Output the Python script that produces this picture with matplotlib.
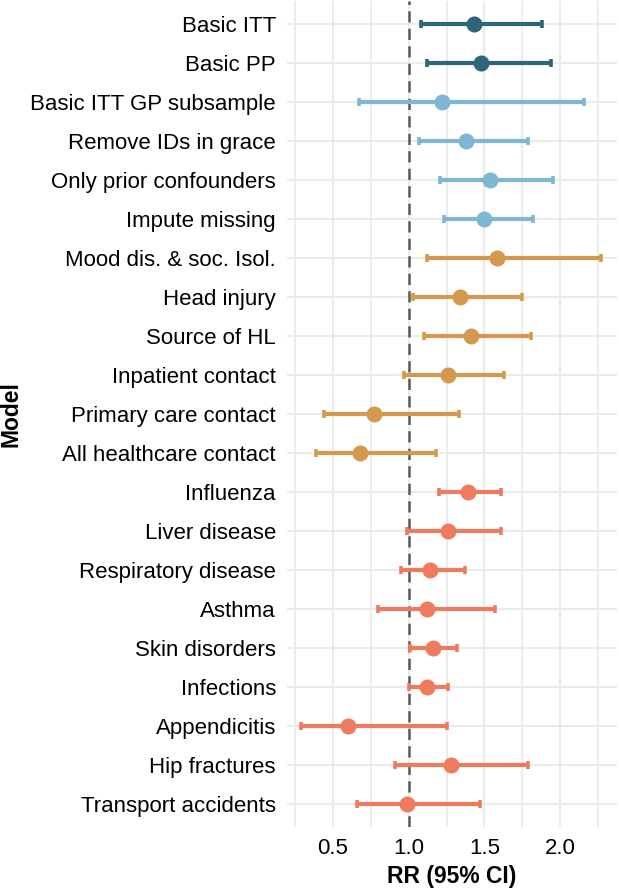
import matplotlib
matplotlib.use('Agg')
import matplotlib.pyplot as plt
from matplotlib.ticker import MultipleLocator

plt.rcParams['font.family'] = ['Liberation Sans', 'DejaVu Sans']

# model names, top to bottom
models = ['Basic ITT', 'Basic PP', 'Basic ITT GP subsample', 'Remove IDs in grace',
          'Only prior confounders', 'Impute missing', 'Mood dis. & soc. Isol.',
          'Head injury', 'Source of HL', 'Inpatient contact', 'Primary care contact',
          'All healthcare contact', 'Influenza', 'Liver disease', 'Respiratory disease',
          'Asthma', 'Skin disorders', 'Infections', 'Appendicitis', 'Hip fractures',
          'Transport accidents']
rr = [1.43, 1.48, 1.22, 1.38, 1.54, 1.50, 1.58, 1.34, 1.41, 1.26, 0.77, 0.68,
      1.39, 1.26, 1.14, 1.12, 1.16, 1.12, 0.60, 1.28, 0.99]
lower = [1.08, 1.12, 0.67, 1.07, 1.21, 1.23, 1.12, 1.03, 1.10, 0.97, 0.44, 0.39,
         1.20, 0.99, 0.95, 0.80, 1.01, 1.00, 0.29, 0.91, 0.66]
upper = [1.88, 1.94, 2.16, 1.79, 1.95, 1.82, 2.27, 1.75, 1.81, 1.63, 1.33, 1.18,
         1.61, 1.61, 1.37, 1.57, 1.32, 1.26, 1.25, 1.79, 1.47]
group = ['main'] * 2 + ['sens'] * 4 + ['conf'] * 6 + ['neg'] * 9

colours = {'main': '#2d6678', 'sens': '#7eb6d3', 'conf': '#d4984f', 'neg': '#ef7b5e'}

fig = plt.figure(figsize=(6.19, 8.9), dpi=100)
ax = fig.add_axes([287 / 619, 1 - 827 / 890, 330 / 619, 826 / 890])

# grid first, under everything
ax.set_axisbelow(True)
ax.xaxis.set_major_locator(MultipleLocator(0.5))
ax.xaxis.set_minor_locator(MultipleLocator(0.25))
ax.grid(True, which='major', axis='both', color='#ebebeb', linewidth=1.5)
ax.grid(True, which='minor', axis='x', color='#ebebeb', linewidth=1.3)

ax.axvline(1.0, color='#5a5a5a', linestyle=(0, (4.5, 2.5)), linewidth=1.8, zorder=1.5)

for i in range(len(models)):
    c = colours[group[i]]
    ax.errorbar(rr[i], i, xerr=[[rr[i] - lower[i]], [upper[i] - rr[i]]],
                fmt='o', color=c, ecolor=c, elinewidth=3.0, capsize=2.8,
                capthick=2.6, markersize=10.5, zorder=3)

ax.set_yticks(range(len(models)))
ax.set_yticklabels(models)
ax.set_ylim(len(models) - 0.4, -0.6)
ax.set_xlim(0.197, 2.375)
ax.set_xticks([0.5, 1.0, 1.5, 2.0])
ax.set_xticklabels(['0.5', '1.0', '1.5', '2.0'])

for s in ax.spines.values():
    s.set_visible(False)
ax.tick_params(axis='both', which='both', length=0, labelsize=16, colors='black')
ax.tick_params(axis='y', pad=8)
ax.tick_params(axis='x', pad=8)

ax.set_xlabel('RR (95% CI)', fontsize=16.5, fontweight='bold', labelpad=4)
ax.set_ylabel('Model', fontsize=16.5, fontweight='bold')
ax.yaxis.set_label_coords(-0.80, 0.5)

fig.savefig('out.png', dpi=100)
